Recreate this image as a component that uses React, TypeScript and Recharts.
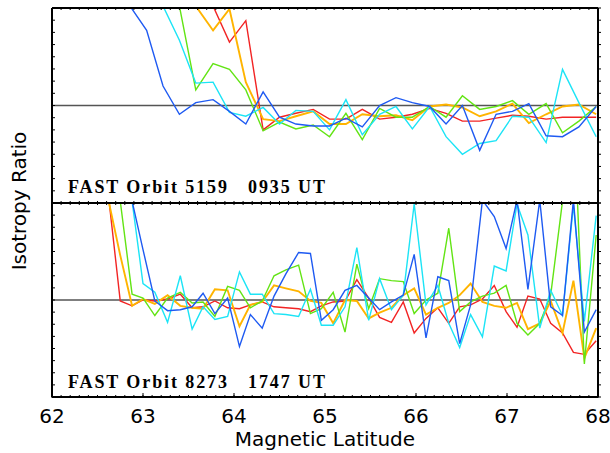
import { LineChart, Line, XAxis, YAxis, ReferenceLine } from "recharts";

// latitude sample points (deg) for each orbit
const topLat = [
  62.12, 62.3, 62.49, 62.67, 62.85, 63.04, 63.22, 63.4, 63.58, 63.77, 63.95,
  64.13, 64.32, 64.5, 64.68, 64.87, 65.05, 65.23, 65.41, 65.6, 65.78, 65.96,
  66.15, 66.33, 66.51, 66.7, 66.88, 67.06, 67.24, 67.43, 67.61, 67.79, 67.98,
];
const topRed = [
  3, 3, 3, 3, 3, 3, 3, 2.9, 2.7, 2.02, 1.65, 1.87, 0.75, 0.88, 0.92, 0.96, 0.86,
  0.86, 0.96, 0.86, 0.88, 0.91, 0.97, 0.92, 0.84, 0.84, 0.87, 0.9, 0.89, 0.86,
  0.88, 0.88, 0.88,
];
const topOrange = [
  3, 3, 3, 3, 3, 3, 2.9, 2.7, 2.02, 1.77, 1.99, 1.24, 0.86, 0.84, 0.89, 0.94,
  0.81, 0.81, 0.91, 0.89, 0.9, 0.85, 0.99, 1.01, 0.98, 0.89, 0.94, 1.02, 0.82,
  0.91, 0.99, 1.01, 0.91,
];
const topGreen = [
  3, 3, 3, 3, 3, 2.9, 2.8, 2.02, 1.16, 1.43, 1.37, 1.16, 0.74, 0.83, 0.76, 0.8,
  0.68, 0.92, 0.65, 0.97, 0.88, 0.88, 0.99, 0.88, 1.1, 0.96, 0.99, 1.05, 0.91,
  1.02, 0.72, 0.84, 0.99,
];
const topCyan = [
  3, 3, 3, 3, 2.9, 2.8, 2.02, 1.67, 1.23, 1.24, 0.93, 0.89, 0.98, 0.81, 0.95,
  0.94, 0.75, 1.06, 0.7, 0.91, 0.99, 0.76, 0.99, 0.68, 0.5, 0.61, 0.64, 0.89,
  0.88, 0.62, 1.37, 1.03, 0.68,
];
const topBlue = [
  3, 2.9, 2.6, 2.4, 2.03, 1.77, 1.2, 0.91, 1.03, 1.06, 0.94, 0.81, 1.14, 0.88,
  0.81, 0.79, 0.79, 0.87, 0.78, 1.0, 1.08, 1.03, 0.99, 0.81, 1.0, 0.54, 0.91,
  0.94, 1.02, 0.69, 0.68, 0.78, 0.99,
];

const botLat = [
  62.5, 62.62, 62.75, 62.88, 63.0, 63.13, 63.27, 63.41, 63.54, 63.66, 63.79,
  63.93, 64.06, 64.18, 64.31, 64.44, 64.57, 64.71, 64.84, 64.96, 65.09, 65.22,
  65.35, 65.48, 65.6, 65.73, 65.86, 65.98, 66.11, 66.24, 66.36, 66.48, 66.6,
  66.73, 66.86, 66.99, 67.11, 67.23, 67.36, 67.48, 67.61, 67.73, 67.85, 67.98,
];
const botRed = [
  2.6, 2.08, 0.99, 0.94, 1.0, 0.99, 1.01, 1.06, 0.92, 0.93, 0.99, 0.92, 0.91,
  0.95, 0.98, 0.93, 0.92, 0.91, 0.88, 0.94, 0.98, 0.99, 1.21, 1.02, 0.82, 0.77,
  0.98, 0.66, 0.81, 0.92, 0.76, 0.93, 0.95, 1.01, 1.15, 0.88, 0.72, 1.04, 1.01,
  0.76, 0.66, 0.46, 0.44, 0.58,
];
const botOrange = [
  2.6, 2.03, 1.46, 0.94, 1.01, 0.96, 1.05, 0.94, 0.92, 0.91, 1.11, 1.1, 0.73,
  0.95, 0.98, 1.15, 1.12, 1.09, 0.99, 0.97, 0.76, 1.0, 0.99, 0.81, 0.87, 0.92,
  1.05, 1.12, 0.85, 0.92, 0.97, 1.05, 1.17, 0.98, 0.94, 0.92, 0.97, 0.7, 0.76,
  0.99, 0.66, 1.2, 0.4, 0.71,
];
const botGreen = [
  2.8, 2.5, 2.02, 1.06, 1.02, 0.84, 1.02, 1.08, 0.97, 0.98, 0.83, 1.14, 1.1,
  0.92, 0.99, 1.25, 1.31, 1.36, 0.86, 0.91, 1.08, 0.67, 1.37, 0.91, 1.22, 1.2,
  1.19, 0.86, 1.0, 1.07, 1.74, 0.88, 0.98, 1.04, 1.07, 1.15, 0.76, 0.64, 0.76,
  1.05, 2.02, 3.0, 0.34, 1.67,
];
const botCyan = [
  3, 2.8, 2.5, 2.02, 1.17, 1.08, 0.77, 1.25, 0.7, 0.93, 0.8, 0.83, 1.29, 1.06,
  1.06, 0.86, 0.85, 0.83, 1.11, 0.74, 0.74, 0.93, 1.54, 0.79, 1.22, 0.9, 1.05,
  1.99, 0.95, 1.15, 0.76, 0.51, 0.85, 0.62, 1.35, 1.3, 1.99, 1.67, 0.71, 1.1,
  0.84, 1.98, 0.78, 1.87,
];
const botBlue = [
  3, 2.8, 2.5, 2.02, 1.52, 0.99, 0.89, 0.9, 0.93, 1.07, 0.86, 1.02, 0.52, 0.85,
  0.71, 1.04, 1.27, 1.49, 1.48, 0.79, 0.9, 1.1, 1.15, 1.02, 0.9, 0.98, 1.05,
  1.47, 0.61, 1.24, 1.2, 0.55, 0.95, 2.03, 1.86, 1.53, 2.03, 1.11, 2.03, 0.93,
  0.84, 2.03, 0.67, 0.9,
];

const xMajor = [62, 63, 64, 65, 66, 67, 68];
const yTicks = [
  0, 0.125, 0.25, 0.375, 0.5, 0.625, 0.75, 0.875, 1, 1.125, 1.25, 1.375, 1.5,
  1.625, 1.75, 1.875, 2,
];
const xMinor = Array.from({ length: 61 }, (_, i) => Math.round((62 + i * 0.1) * 10) / 10);

const series = [
  { key: "red", color: "#F22424", width: 1.4 },
  { key: "orange", color: "#FFB400", width: 1.9 },
  { key: "green", color: "#62E414", width: 1.4 },
  { key: "cyan", color: "#1CE4F6", width: 1.4 },
  { key: "blue", color: "#1E5AF2", width: 1.4 },
];

const topData = topLat.map((lat, i) => ({
  lat, red: topRed[i], orange: topOrange[i], green: topGreen[i], cyan: topCyan[i], blue: topBlue[i],
}));
const botData = botLat.map((lat, i) => ({
  lat, red: botRed[i], orange: botOrange[i], green: botGreen[i], cyan: botCyan[i], blue: botBlue[i],
}));

const frame = { stroke: "#000", strokeWidth: 2 };
const tickStroke = { stroke: "#000", strokeWidth: 1 };
const sans = "'DejaVu Sans', sans-serif";
// tick={false} also drops the tick lines in recharts 3, so blank the labels instead
const noLabel = { fontSize: 0 };
const blank = () => "";

// one stacked panel; axes are 1px wide so they actually get drawn
function Panel({ data, height, top, labels }: any) {
  return (
    <LineChart width={610} height={height} data={data} margin={{ top: top - 1, right: 11, bottom: 0, left: 51 }}>
      <XAxis xAxisId="t" type="number" dataKey="lat" orientation="top" domain={[62, 68]} allowDataOverflow
        height={1} ticks={xMinor} tick={noLabel} tickFormatter={blank} tickSize={-2} axisLine={frame}
        tickLine={tickStroke} interval={0} />
      <XAxis xAxisId="b" type="number" dataKey="lat" orientation="bottom" domain={[62, 68]} allowDataOverflow
        height={1} ticks={xMinor} tick={noLabel} tickFormatter={blank} tickSize={-2} axisLine={frame}
        tickLine={tickStroke} interval={0} />
      {labels && (
        <XAxis xAxisId="lab" type="number" dataKey="lat" orientation="bottom" domain={[62, 68]} allowDataOverflow
          height={55} ticks={xMajor} tickSize={-5} tickMargin={16} axisLine={false} tickLine={tickStroke}
          tick={{ fill: "#000", fontSize: 20, fontFamily: sans }} interval={0} />
      )}
      <YAxis yAxisId="l" domain={[0, 2]} allowDataOverflow width={1} ticks={yTicks} tick={noLabel}
        tickFormatter={blank} tickSize={-3} axisLine={frame} tickLine={tickStroke} interval={0} />
      <YAxis yAxisId="r" orientation="right" domain={[0, 2]} allowDataOverflow width={1} ticks={yTicks}
        tick={noLabel} tickFormatter={blank} tickSize={3} axisLine={frame} tickLine={tickStroke} interval={0} />
      <ReferenceLine xAxisId="b" yAxisId="l" y={1} stroke="#555" strokeWidth={1.5} />
      {series.map((s) => (
        <Line key={s.key} xAxisId="b" yAxisId="l" type="linear" dataKey={s.key} stroke={s.color}
          strokeWidth={s.width} dot={false} activeDot={false} isAnimationActive={false} />
      ))}
    </LineChart>
  );
}

export default function App() {
  const title = { fontFamily: "'Liberation Serif', serif", fontWeight: 700, fontSize: 18, letterSpacing: 1.9, whiteSpace: "pre" as const };
  return (
    <div style={{ position: "absolute", left: 0, top: 0, width: 610, height: 453, background: "#fff" }}>
      <div style={{ position: "absolute", left: 0, top: 0 }}>
        <Panel data={topData} height={204} top={8} labels={false} />
      </div>
      <div style={{ position: "absolute", left: 0, top: 0 }}>
        <Panel data={botData} height={453} top={203} labels />
      </div>
      <svg width={610} height={453} style={{ position: "absolute", left: 0, top: 0, pointerEvents: "none" }}>
        <text x={68} y={193} style={title}>FAST Orbit 5159   0935 UT</text>
        <text x={68} y={388} style={title}>FAST Orbit 8273   1747 UT</text>
        <text x={325} y={446} textAnchor="middle" fontFamily={sans} fontSize={20}>
          Magnetic Latitude
        </text>
        <text x={26} y={201} textAnchor="middle" fontFamily={sans} fontSize={20}
          transform="rotate(-90 26 201)">
          Isotropy Ratio
        </text>
      </svg>
    </div>
  );
}
